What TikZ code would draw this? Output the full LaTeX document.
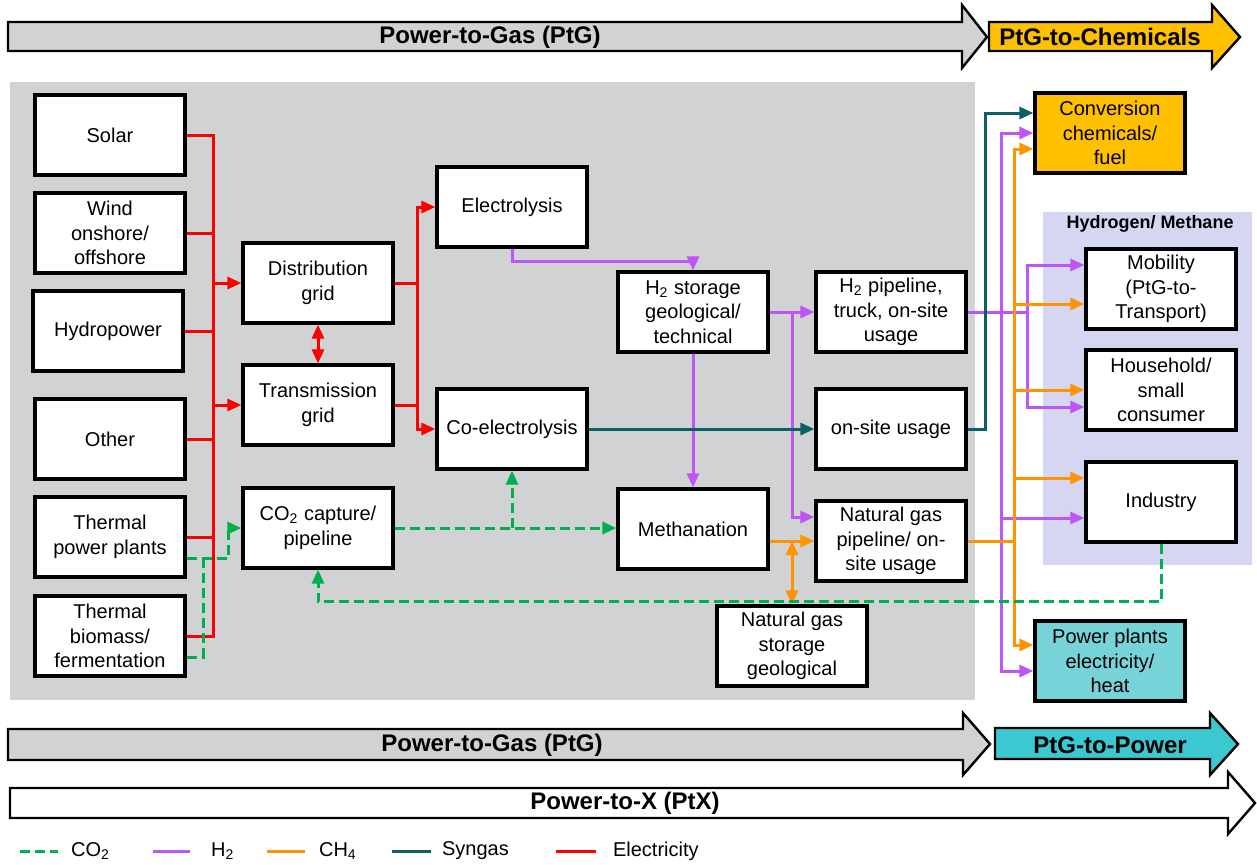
\documentclass[tikz,border=0pt]{standalone}
\usepackage{fontspec}
\setmainfont{Liberation Sans}
\usetikzlibrary{calc,arrows.meta}

\definecolor{bggray}{RGB}{208,210,211}
\definecolor{lavender}{RGB}{212,214,242}
\definecolor{chemorange}{RGB}{255,192,0}
\definecolor{ppteal}{RGB}{118,211,216}
\definecolor{powerteal}{RGB}{60,200,208}
\definecolor{co2green}{RGB}{0,176,80}
\definecolor{htwopurple}{RGB}{190,85,245}
\definecolor{chfourorange}{RGB}{255,147,0}
\definecolor{synteal}{RGB}{10,96,100}
\definecolor{elecred}{RGB}{255,0,0}

\begin{document}
\begin{tikzpicture}[x=0.5pt,y=-0.5pt,
  >={Triangle[length=7pt,width=6pt]},
  box/.style={draw,line width=1.6pt,fill=white,minimum width=75pt,minimum height=40pt,
    inner sep=1pt,align=center,font=\fontsize{10}{12.2}\selectfont},
  band/.style={draw,line width=1.2pt},
  bandtext/.style={font=\bfseries\fontsize{12}{14}\selectfont},
  elec/.style={draw=elecred,line width=1.5pt},
  co2/.style={draw=co2green,line width=1.5pt,dash pattern=on 5pt off 2.5pt},
  htwo/.style={draw=htwopurple,line width=1.5pt},
  chfour/.style={draw=chfourorange,line width=1.5pt},
  syn/.style={draw=synteal,line width=1.5pt},
  legtext/.style={anchor=west,font=\fontsize{10}{12}\selectfont}]
\useasboundingbox (0,0) rectangle (1257,864);

\fill[bggray] (10,82) rectangle (975,700);
\fill[lavender] (1043,212) rectangle (1252,565);
\node[font=\bfseries\fontsize{9}{11}\selectfont] (hmtitle) at (1150,224) {Hydrogen/ Methane};

% bands
\draw[band,fill=bggray] (8,22) -- (962,22) -- (962,5) -- (987,37) -- (962,68) -- (962,51) -- (8,51) -- cycle;
\draw[band,fill=chemorange] (989,22) -- (1212,22) -- (1212,5) -- (1240,37) -- (1212,68) -- (1212,51) -- (989,51) -- cycle;
\node[bandtext] (ptgtop) at (490,37) {Power-to-Gas (PtG)};
\node[bandtext] (ptgchem) at (1100,37) {PtG-to-Chemicals};

\draw[band,fill=bggray] (8,729) -- (963,729) -- (963,713) -- (990,744) -- (963,775) -- (963,760) -- (8,760) -- cycle;
\draw[band,fill=powerteal] (995,728) -- (1210,728) -- (1210,713) -- (1238,744) -- (1210,775) -- (1210,759) -- (995,759) -- cycle;
\draw[band,fill=white] (10,788) -- (1228,788) -- (1228,772) -- (1255,803) -- (1228,834) -- (1228,818) -- (10,818) -- cycle;
\node[bandtext] (ptgbot) at (492,745) {Power-to-Gas (PtG)};
\node[bandtext] (ptgpower) at (1110,745) {PtG-to-Power};
\node[bandtext] (ptx) at (625,803) {Power-to-X (PtX)};

% sources
\node[box] (solar) at (110,135) {Solar};
\node[box] (wind) at (110,233) {Wind\\onshore/\\offshore};
\node[box] (hydro) at (108,331) {Hydropower};
\node[box] (other) at (110,439) {Other};
\node[box] (thermal) at (110,537) {Thermal\\power plants};
\node[box] (biomass) at (110,636) {Thermal\\biomass/\\fermentation};

\node[box] (distgrid) at (318,283) {Distribution\\grid};
\node[box] (transgrid) at (318,405) {Transmission\\grid};
\node[box] (co2cap) at (318,528) {CO\textsubscript{2} capture/\\pipeline};

\node[box] (elyse) at (512,207) {Electrolysis};
\node[box] (coelyse) at (512,429) {Co-electrolysis};
\node[box] (htwostore) at (693,312) {H\textsubscript{2} storage\\geological/\\technical};
\node[box] (methan) at (693,529) {Methanation};
\node[box] (htwopipe) at (891,312) {H\textsubscript{2} pipeline,\\truck, on-site\\usage};
\node[box] (onsite) at (891,429) {on-site usage};
\node[box] (ngpipe) at (891,541) {Natural gas\\pipeline/ on-\\site usage};
\node[box] (ngstore) at (792,646) {Natural gas\\storage\\geological};

% uses
\node[box,fill=chemorange] (convchem) at (1110,133) {Conversion\\chemicals/\\fuel};
\node[box] (mobility) at (1161,289) {Mobility\\(PtG-to-\\Transport)};
\node[box] (household) at (1161,390) {Household/\\small\\consumer};
\node[box] (industry) at (1161,502) {Industry};
\node[box,fill=ppteal] (powerplant) at (1110,661) {Power plants\\electricity/\\heat};

\coordinate (rbus) at (213,300);
\coordinate (rbustwo) at (417,300);
\coordinate (gjoin) at (203,558);
\coordinate (hbus) at (792,400);
\coordinate (tbus) at (985,300);
\coordinate (pbusa) at (1001,300);
\coordinate (obus) at (1014,300);
\coordinate (pbusb) at (1027,300);

% electricity
\draw[elec] (solar.east) -- (solar.east -| rbus) -- (biomass.east -| rbus) -- (biomass.east);
\draw[elec] (wind.east) -- (wind.east -| rbus);
\draw[elec] (hydro.east) -- (hydro.east -| rbus);
\draw[elec] (other.east) -- (other.east -| rbus);
\draw[elec] (thermal.east) -- (thermal.east -| rbus);
\draw[elec,->] (rbus |- distgrid.west) -- (distgrid.west);
\draw[elec,->] (rbus |- transgrid.west) -- (transgrid.west);
\draw[elec,<->] (distgrid.south) -- (transgrid.north);
\draw[elec] (distgrid.east) -- (distgrid.east -| rbustwo);
\draw[elec] (transgrid.east) -- (transgrid.east -| rbustwo);
\draw[elec,->] (coelyse.west -| rbustwo) -- (elyse.west -| rbustwo) -- (elyse.west);
\draw[elec,->] (elyse.west -| rbustwo) -- (coelyse.west -| rbustwo) -- (coelyse.west);

% hydrogen
\draw[htwo,->] (elyse.south) -- ++(0,13) -| (htwostore.north);
\draw[htwo,->] (htwostore.east) -- (htwopipe.west);
\draw[htwo,->] (htwostore.east -| hbus) |- ($(ngpipe.west)+(0,-24)$);
\draw[htwo,->] (htwostore.south) -- (methan.north);
\draw[htwo] (htwopipe.east) -- (htwopipe.east -| pbusb);
\draw[htwo,->] (pbusa |- htwopipe.east) |- (convchem.west);
\draw[htwo,->] (pbusa |- htwopipe.east) |- ($(powerplant.west)+(0,10)$);
\draw[htwo,->] ($(pbusa |- industry.west)+(0,16)$) -- ($(industry.west)+(0,16)$);
\draw[htwo,->] (pbusb |- htwopipe.east) |- ($(mobility.west)+(0,-24)$);
\draw[htwo,->] (pbusb |- htwopipe.east) |- ($(household.west)+(0,17)$);

% syngas
\draw[syn,->] (coelyse.east) -- (onsite.west);
\draw[syn,->] (onsite.east) -- (onsite.east -| tbus) |- ($(convchem.west)+(0,-20)$);

% methane
\draw[chfour,->] (methan.east |- ngpipe.west) -- (ngpipe.west);
\draw[chfour,<->] (hbus |- ngpipe.west) -- (ngstore.north);
\draw[chfour] (ngpipe.east) -- (ngpipe.east -| obus);
\draw[chfour,->] (obus |- ngpipe.east) |- ($(convchem.west)+(0,16)$);
\draw[chfour,->] (obus |- ngpipe.east) |- ($(powerplant.west)+(0,-16)$);
\draw[chfour,->] ($(obus |- mobility.west)+(0,15)$) -- ($(mobility.west)+(0,15)$);
\draw[chfour,->] (obus |- household.west) -- (household.west);
\draw[chfour,->] ($(obus |- industry.west)+(0,-24)$) -- ($(industry.west)+(0,-24)$);

% co2
\draw[co2,->] ($(thermal.east)+(0,21)$) -- ++(42,0) |- (co2cap.west);
\draw[co2] ($(biomass.east)+(0,21)$) -| (gjoin);
\draw[co2,->] (co2cap.east) -- (co2cap.east -| methan.west);
\draw[co2,->] (co2cap.east -| coelyse.south) -- (coelyse.south);
\draw[co2,->] (industry.south) -- ++(0,58) -| (co2cap.south);

% legend
\draw[co2] (20,851) coordinate (lco2) -- (58,851);
\node[legtext] (lgco2) at (64,851) {CO\textsubscript{2}};
\draw[htwo] (153,851) coordinate (lhtwo) -- (190,851);
\node[legtext] (lghtwo) at (204,851) {H\textsubscript{2}};
\draw[chfour] (267,851) coordinate (lchfour) -- (305,851);
\node[legtext] (lgchfour) at (312,851) {CH\textsubscript{4}};
\draw[syn] (392,851) coordinate (lsyn) -- (431,851);
\node[legtext] (lgsyn) at (435,851) {Syngas};
\draw[elec] (556,851) coordinate (lelec) -- (596,851);
\node[legtext] (lgelec) at (606,851) {Electricity};
\end{tikzpicture}
\end{document}
